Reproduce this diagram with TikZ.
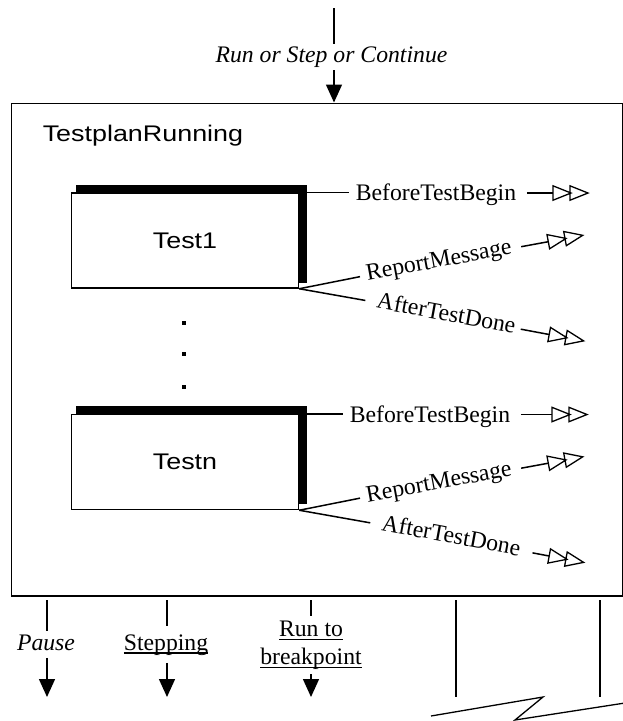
\documentclass[tikz,border=0pt]{standalone}
\usepackage{fontspec}
\setmainfont{Liberation Serif}
\newfontfamily\armfont[FakeStretch=1.19]{Liberation Sans}
\usetikzlibrary{arrows.meta,calc}

% underline at a fixed depth below the baseline (crosses descenders)
\newsavebox\ulbox
\newcommand\undl[1]{\sbox\ulbox{#1}\rlap{\rule[-3.6pt]{\wd\ulbox}{1.3pt}}\usebox\ulbox}

\tikzset{
  dbl/.pic={\draw[line width=1.3pt, line join=miter]
      (0,-7.2) -- (18,0) -- (0,7.2) -- cycle
      (17,-7.2) -- (35,0) -- (17,7.2) -- cycle;},
}

\begin{document}
\begin{tikzpicture}[x=1pt, y=-1pt, line width=1.5pt,
  sans/.style={font=\armfont\fontsize{22.6}{26}\selectfont},
  serif/.style={font=\fontsize{23.7}{28}\selectfont},
  ital/.style={font=\fontsize{23.7}{28}\selectfont\itshape},
  testbox/.style={draw, sans, minimum width=227pt, minimum height=95pt, inner sep=0pt},
  sig/.style={serif, inner xsep=0pt, inner ysep=2pt, text height=16pt, text depth=5pt},
  head/.style={-{Triangle[length=18pt,width=16pt]}},
]
\path[use as bounding box] (0,0) rectangle (623,721);

% composite state
\node[draw, line width=1.8pt, minimum width=611pt, minimum height=492.5pt, inner sep=0pt,
      anchor=north west] (plan) at (10.5,102.5) {};
\node[sans, anchor=base west, inner sep=0pt] (title) at (42,141) {TestplanRunning};

% incoming transition
\coordinate (in0) at (334,8);
\node[ital, text height=16pt, text depth=5pt, inner ysep=2pt] (rsc) at (331.5,57)
  {Run or Step or Continue};
\draw (in0) -- (in0 |- rsc.north);
\draw[head] (in0 |- rsc.south) -- (in0 |- plan.north);

% sub-states
\node[testbox] (t1) at (185,240.5) {Test1};
\node[testbox] (t2) at (185,462) {Testn};
\foreach \t in {t1,t2}{
  \fill ([xshift=5pt,yshift=7.5pt]\t.north west) rectangle ([xshift=7.5pt]\t.north east);
  \fill ([yshift=7.5pt]\t.north east) rectangle ([xshift=7.5pt,yshift=6pt]\t.south east);
}

% ellipsis between the tests
\foreach \yy in {321,352,385} \fill (182,\yy) rectangle +(4,4);

% signals sent by Test1
\node[sig] (bt1) at (436,195.4) {BeforeTestBegin};
\coordinate (bt1e) at (553,193);
\draw[shorten >=6pt] (t1.north east) -- (t1.north east -| bt1.west);
\draw[shorten <=10pt] (bt1.east |- bt1e) -- (bt1e);
\pic at (bt1e) {dbl};

\node[sig, rotate=10.5] (rm1) at (439.1,261.9) {ReportMessage};
\coordinate (rm1e) at (548.3,241.7);
\draw[shorten >=6pt] (t1.south east) -- (rm1.west);
\draw[shorten <=9pt] (rm1.east) -- (rm1e);
\pic[rotate=10.5] at (rm1e) {dbl};

\node[sig, rotate=-10.5] (ad1) at (446,315.3) {AfterTestDone};
\coordinate (ad1e) at (549.2,334.5);
\draw[shorten >=11pt] (t1.south east) -- (ad1.west);
\draw[shorten <=5pt] (ad1.east) -- (ad1e);
\pic[rotate=-10.5] at (ad1e) {dbl};

% signals sent by Testn
\node[sig] (bt2) at (430,416.9) {BeforeTestBegin};
\coordinate (bt2e) at (552,414.5);
\draw[shorten >=6pt] (t2.north east) -- (t2.north east -| bt2.west);
\draw[shorten <=10pt] (bt2.east |- bt2e) -- (bt2e);
\pic at (bt2e) {dbl};

\node[sig, rotate=10.5] (rm2) at (439.1,483.4) {ReportMessage};
\coordinate (rm2e) at (548.3,463.2);
\draw[shorten >=6pt] (t2.south east) -- (rm2.west);
\draw[shorten <=9pt] (rm2.east) -- (rm2e);
\pic[rotate=10.5] at (rm2e) {dbl};

\node[sig, rotate=-10.5] (ad2) at (450.9,537.7) {AfterTestDone};
\coordinate (ad2e) at (549.2,556);
\draw[shorten >=11pt] (t2.south east) -- (ad2.west);
\draw[shorten <=12pt] (ad2.east) -- (ad2e);
\pic[rotate=-10.5] at (ad2e) {dbl};

% outgoing transitions
\coordinate (pa0) at (47,600);  \coordinate (pa1) at (47,697);
\node[ital, text height=16pt, text depth=5pt, inner ysep=2pt, anchor=base] (pause) at (46,650) {Pause};
\draw (pa0) -- (pa0 |- pause.north);
\draw[head] (pa0 |- pause.south) -- (pa1);

\coordinate (st0) at (167,600); \coordinate (st1) at (167,697);
\node[serif, text height=18pt, text depth=7pt, inner ysep=5pt, anchor=base] (stp) at (166,650) {\undl{Stepping}};
\draw (st0) -- (st0 |- stp.north);
\draw[head] (st0 |- stp.south) -- (st1);

\coordinate (rb0) at (311,600); \coordinate (rb1) at (311,697);
\node[serif, align=center, anchor=north, inner ysep=4pt] (rtb) at (311,616)
  {\undl{Run to}\\\undl{breakpoint}};
\draw (rb0) -- (rtb.north);
\draw[head] (rtb.south) -- (rb1);

% further exits, cut off by a break mark
\draw (456,600) -- (456,697);
\draw (600,600) -- (600,697);
\draw[line width=1.3pt] (431,716) -- (543,697) -- (515,720) -- (623,703.3);
\end{tikzpicture}
\end{document}
